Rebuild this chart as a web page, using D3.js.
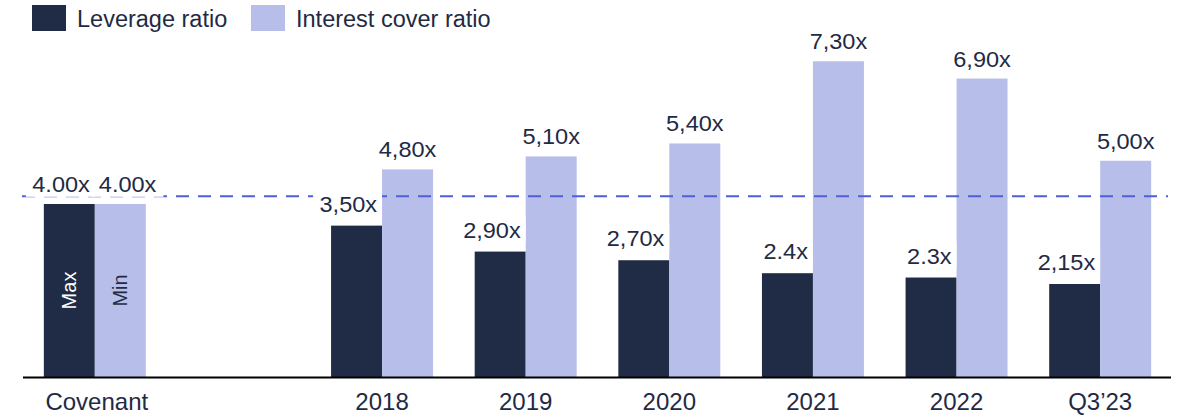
<!DOCTYPE html>
<html>
<head>
<meta charset="utf-8">
<script src="https://cdn.jsdelivr.net/npm/d3@7"></script>
<style>
    body { margin: 0; background: #fff; }
    svg { display: block; font-family: "Liberation Sans", Arial, sans-serif; }
</style>
</head>
<body>
<div id="chart"></div>
<script>

// chart data
let categories = ["Covenant", "", "2018", "2019", "2020", "2021", "2022", "Q3’23"];
let leverage = [4.00, null, 3.50, 2.90, 2.70, 2.4, 2.3, 2.15];
let interest = [4.00, null, 4.80, 5.10, 5.40, 7.30, 6.90, 5.00];
let leverageLabels = ["4.00x", "", "3,50x", "2,90x", "2,70x", "2.4x", "2.3x", "2,15x"];
let interestLabels = ["4.00x", "", "4,80x", "5,10x", "5,40x", "7,30x", "6,90x", "5,00x"];
let seriesNames = ["Leverage ratio", "Interest cover ratio"];
let covenantNotes = ["Max", "Min"];
let thresholdValue = 4.18;

const colors = {
    dark: "#202b45",
    light: "#b7bee9",
    dash: "#4f60d6",
    text: "#1f2a44"
};

const width = 1178,
    height = 415;

const margin = {
    top: 31,
    right: 6,
    bottom: 38,
    left: 23
};

let svg = d3.select("#chart").append("svg")
    .attr("width", width)
    .attr("height", height);

// scales
let xScale = d3.scaleBand()
    .domain(d3.range(categories.length))
    .range([margin.left, width - margin.right])
    .paddingInner(0.29)
    .paddingOuter(0.145);

let sub = d3.scaleBand()
    .domain([0, 1])
    .range([0, xScale.bandwidth()]);

let yScale = d3.scaleLinear()
    .domain([0, 8])
    .range([height - margin.bottom, margin.top]);

let rows = categories.map((c, i) => {
    return {
        i: i,
        cat: c,
        values: [leverage[i], interest[i]],
        labels: [leverageLabels[i], interestLabels[i]]
    };
});

// bars
let bars = svg.append("g").attr("class", "bars");

rows.forEach(r => {
    r.values.forEach((v, k) => {
        if (v === null) return;
        bars.append("rect")
            .attr("x", xScale(r.i) + sub(k))
            .attr("y", yScale(v))
            .attr("width", sub.bandwidth())
            .attr("height", yScale(0) - yScale(v))
            .attr("fill", k === 0 ? colors.dark : colors.light);
    });
});

// covenant Max / Min inside the bars
covenantNotes.forEach((t, k) => {
    let cx = xScale(0) + sub(k) + sub.bandwidth() / 2;
    let cy = yScale(0) - (yScale(0) - yScale(leverage[0])) * 0.5;
    svg.append("text")
        .attr("transform", `translate(${cx + 7},${cy}) rotate(-90)`)
        .attr("text-anchor", "middle")
        .attr("font-size", "20px")
        .attr("fill", k === 0 ? "#fff" : colors.text)
        .text(t);
});

// threshold line
svg.append("line")
    .attr("x1", margin.left - 1)
    .attr("x2", width - 10)
    .attr("y1", yScale(thresholdValue))
    .attr("y2", yScale(thresholdValue))
    .attr("stroke", colors.dash)
    .attr("stroke-width", 2)
    .attr("stroke-dasharray", "13,9");

// value labels, white box behind so the dashes break
let labels = svg.append("g").attr("class", "labels");

rows.forEach(r => {
    r.values.forEach((v, k) => {
        if (v === null) return;
        let x0 = xScale(r.i) + sub(k);
        let lx, anchor;
        if (k === 0) {
            lx = x0 + sub.bandwidth() - 5;
            anchor = "end";
        } else if (r.i === 0) {
            lx = x0 + 4;
            anchor = "start";
        } else {
            lx = x0 + sub.bandwidth() / 2;
            anchor = "middle";
        }
        let ly = yScale(v) - (k === 0 && r.i !== 0 ? 14 : 12);

        let g = labels.append("g")
            .attr("transform", `translate(${lx},${ly}) scale(1.07,1)`);
        let bg = g.append("rect").attr("fill", "#fff");
        let t = g.append("text")
            .attr("text-anchor", anchor)
            .attr("font-size", "22px")
            .attr("fill", colors.text)
            .text(r.labels[k]);
        let bb = t.node().getBBox();
        bg.attr("x", bb.x - 6)
            .attr("y", bb.y - 2)
            .attr("width", bb.width + (k === 0 ? 10 : 12))
            .attr("height", bb.height + 2);
    });
});

// x axis
svg.append("line")
    .attr("x1", margin.left)
    .attr("x2", width - margin.right - 1)
    .attr("y1", yScale(0) + 0.5)
    .attr("y2", yScale(0) + 0.5)
    .attr("stroke", "#000")
    .attr("stroke-width", 2);

svg.append("g").selectAll("text")
    .data(rows).enter()
    .append("text")
    .attr("x", d => xScale(d.i) + xScale.bandwidth() / 2 + (d.i === 0 ? 2 : 0))
    .attr("y", 410)
    .attr("text-anchor", "middle")
    .attr("font-size", "24px")
    .attr("fill", colors.text)
    .text(d => d.cat);

// legend
let legend = svg.append("g").attr("class", "legend");
let legendX = [32, 251];

seriesNames.forEach((name, k) => {
    legend.append("rect")
        .attr("x", legendX[k])
        .attr("y", 5)
        .attr("width", 34)
        .attr("height", 26)
        .attr("fill", k === 0 ? colors.dark : colors.light);
    legend.append("text")
        .attr("x", legendX[k] + 45)
        .attr("y", 27)
        .attr("font-size", "23.5px")
        .attr("fill", colors.text)
        .text(name);
});

</script>
</body>
</html>
